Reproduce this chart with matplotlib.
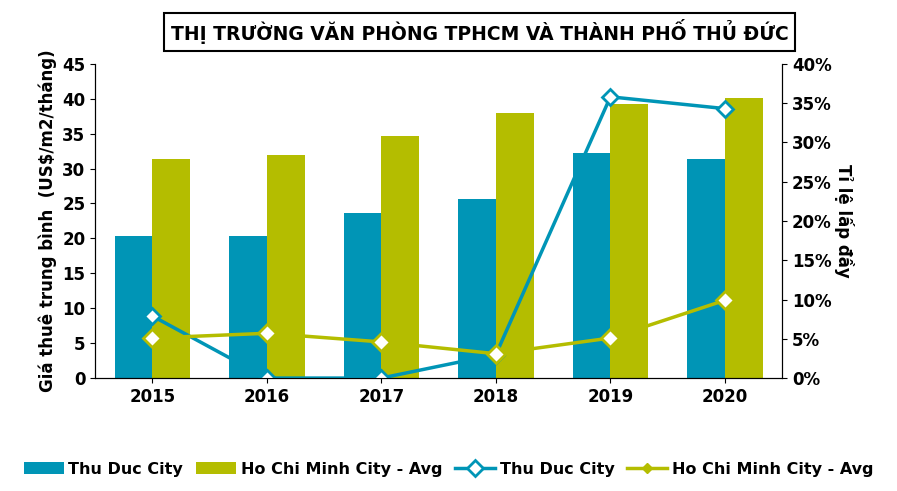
import matplotlib
matplotlib.use("Agg")
import matplotlib.pyplot as plt
from matplotlib.lines import Line2D
import numpy as np

plt.rcParams['font.family'] = ['DejaVu Sans']
years = ['2015', '2016', '2017', '2018', '2019', '2020']
thu_duc_rent = [20.3, 20.3, 23.6, 25.6, 32.2, 31.3]
hcmc_rent = [31.3, 32.0, 34.6, 37.9, 39.3, 40.1]
thu_duc_occ = [7.9, 0.0, 0.0, 3.0, 35.8, 34.3]
hcmc_occ = [5.1, 5.7, 4.6, 3.1, 5.1, 9.9]

blue = '#0095B6'
olive = '#B4BD00'

fig = plt.figure(figsize=(8.97, 4.91), dpi=100)
ax = fig.add_axes([0.106, 0.23, 0.766, 0.64])
x = np.arange(len(years))
w = 0.33
b1 = ax.bar(x - w/2, thu_duc_rent, w, color=blue, label='Thu Duc City')
b2 = ax.bar(x + w/2, hcmc_rent, w, color=olive, label='Ho Chi Minh City - Avg')
ax.set_ylim(0, 45)
ax.set_yticks(range(0, 46, 5))
ax.set_xlim(-0.5, 5.5)
ax.set_xticks(x)
ax.set_xticklabels(years, fontweight='bold', fontsize=12)
ax.tick_params(axis='y', labelsize=12)
for t in ax.get_yticklabels():
    t.set_fontweight('bold')
ax.set_ylabel('Giá thuê trung bình  (US$/m2/tháng)', fontweight='bold', fontsize=12)
ax.spines['top'].set_visible(False)

ax2 = ax.twinx()
l1, = ax2.plot(x, thu_duc_occ, color=blue, lw=2.5, marker='D', ms=8,
               mfc='white', mec=blue, mew=2, label='Thu Duc City')
l2, = ax2.plot(x, hcmc_occ, color=olive, lw=2.5, marker='D', ms=9,
               mfc='white', mec=olive, mew=2, label='Ho Chi Minh City - Avg')
ax2.set_ylim(0, 40)
ax2.set_yticks(range(0, 41, 5))
ax2.set_yticklabels([f'{v}%' for v in range(0, 41, 5)], fontsize=12, fontweight='bold')
ax2.set_ylabel('Tỉ lệ lấp đầy', fontweight='bold', fontsize=12, rotation=-90, labelpad=16)
ax2.spines['top'].set_visible(False)

fig.text(0.535, 0.935, 'THỊ TRƯỜNG VĂN PHÒNG TPHCM VÀ THÀNH PHỐ THỦ ĐỨC',
         ha='center', va='center', fontsize=13.5, fontweight='bold',
         bbox=dict(boxstyle='square,pad=0.35', fc='white', ec='black', lw=1.5))

h2 = Line2D([], [], color=olive, lw=2.5, marker='D', ms=5, mfc=olive, mec=olive)
fig.legend([b1, b2, l1, h2], ['Thu Duc City', 'Ho Chi Minh City - Avg', 'Thu Duc City', 'Ho Chi Minh City - Avg'],
           loc='lower center', bbox_to_anchor=(0.5, 0.0), ncol=4, frameon=False,
           prop={'weight': 'bold', 'size': 11.5}, handlelength=2.5, columnspacing=0.8, handletextpad=0.3)
fig.savefig('out.png', dpi=100)
